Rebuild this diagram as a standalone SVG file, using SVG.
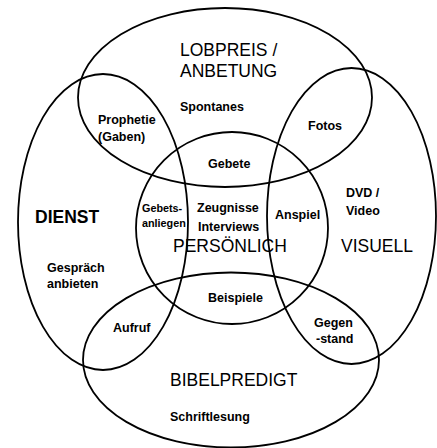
<svg xmlns="http://www.w3.org/2000/svg" width="437" height="448" viewBox="0 0 437 448">
<style>
.sh{fill:none;stroke:#000;stroke-width:1.8}
.big{font-family:"Liberation Sans",Arial,sans-serif;font-size:17.5px;fill:#000}
.bb{font-weight:bold}
.sm{font-family:"Liberation Sans",Arial,sans-serif;font-size:12.5px;font-weight:bold;fill:#000}
.xs{font-family:"Liberation Sans",Arial,sans-serif;font-size:10.8px;font-weight:bold;fill:#000}
</style>
<rect width="437" height="448" fill="#fff"/>
<g id="lobpreis">
<ellipse class="sh" cx="225" cy="97.5" rx="147" ry="89.5"/>
<text class="big" x="180" y="56">LOBPREIS /</text>
<text class="big" x="180" y="77">ANBETUNG</text>
<text class="sm" x="180" y="111">Spontanes</text>
</g>
<g id="dienst">
<ellipse class="sh" cx="103" cy="222" rx="85" ry="148"/>
<text class="big bb" x="35" y="223">DIENST</text>
<text class="sm" x="47" y="272">Gespräch</text>
<text class="sm" x="47" y="288">anbieten</text>
</g>
<g id="visuell">
<ellipse class="sh" cx="351.5" cy="216" rx="84.5" ry="148"/>
<text class="sm" x="346" y="197">DVD /</text>
<text class="sm" x="346" y="215">Video</text>
<text class="big" x="341" y="252">VISUELL</text>
</g>
<g id="bibelpredigt">
<ellipse class="sh" cx="231" cy="360" rx="148" ry="87.5"/>
<text class="big" x="170" y="386">BIBELPREDIGT</text>
<text class="sm" x="170" y="421">Schriftlesung</text>
</g>
<g id="persoenlich">
<circle class="sh" cx="232" cy="228" r="96"/>
<text class="sm" x="197" y="212">Zeugnisse</text>
<text class="sm" x="198" y="231">Interviews</text>
<text class="big" x="173" y="252">PERSÖNLICH</text>
</g>
<g id="prophetie"><text class="sm" x="98" y="124">Prophetie</text><text class="sm" x="98" y="141">(Gaben)</text></g>
<g id="fotos"><text class="sm" x="308" y="130">Fotos</text></g>
<g id="gebete"><text class="sm" x="208" y="168">Gebete</text></g>
<g id="gebetsanliegen"><text class="xs" x="142" y="212">Gebets-</text><text class="xs" x="142" y="227">anliegen</text></g>
<g id="anspiel"><text class="sm" x="275" y="219">Anspiel</text></g>
<g id="beispiele"><text class="sm" x="208" y="302">Beispiele</text></g>
<g id="aufruf"><text class="sm" x="113" y="332">Aufruf</text></g>
<g id="gegenstand"><text class="sm" x="314" y="327">Gegen</text><text class="sm" x="316" y="343">-stand</text></g>
</svg>
